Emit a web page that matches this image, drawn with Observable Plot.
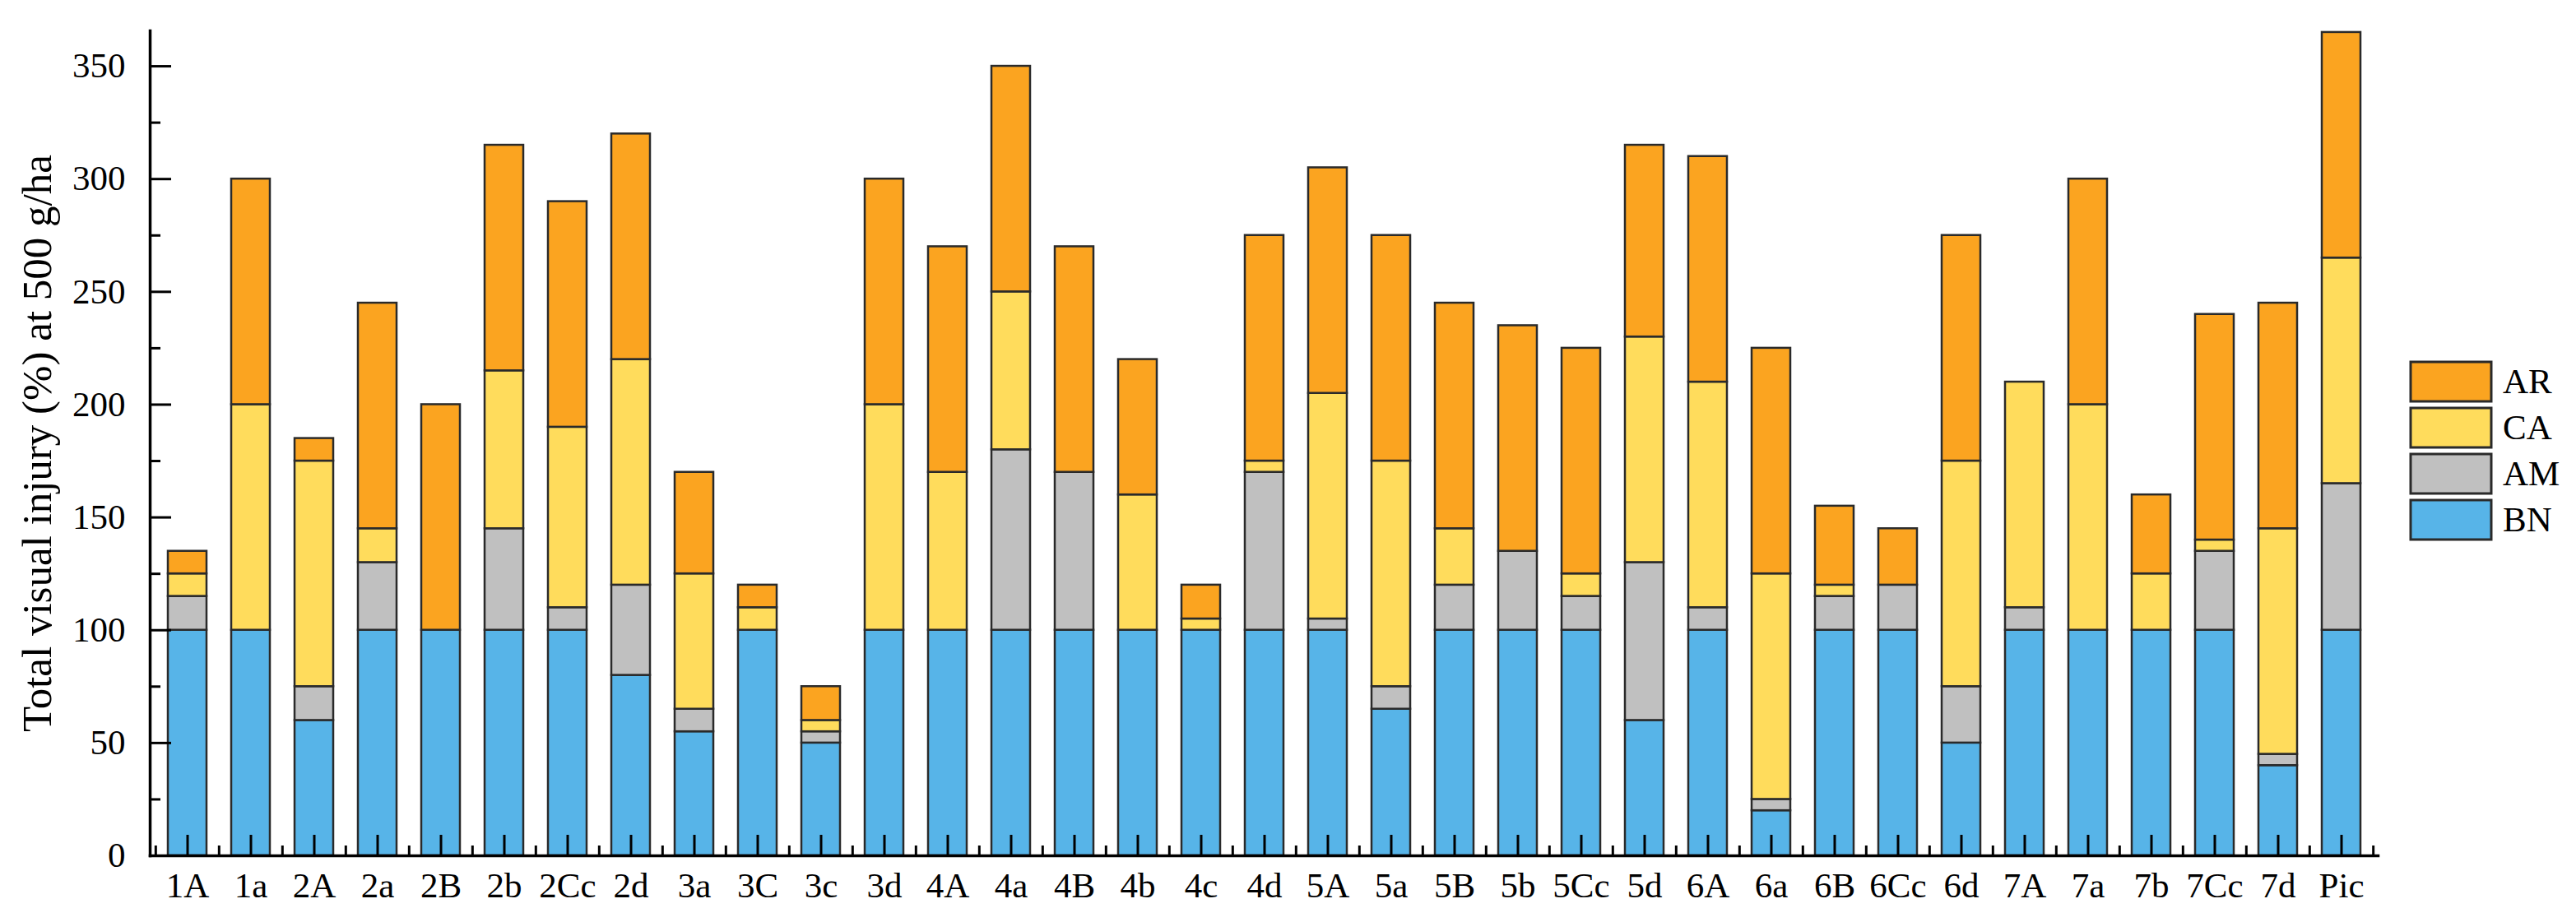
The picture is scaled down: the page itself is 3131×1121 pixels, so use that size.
<!DOCTYPE html>
<html>
<head>
<meta charset="utf-8">
<script src="https://cdn.jsdelivr.net/npm/d3@7"></script>
<script src="https://cdn.jsdelivr.net/npm/@observablehq/plot@0.6"></script>
<style>
  html, body { margin: 0; padding: 0; background: #fff; }
  #wrap { position: relative; width: 3131px; height: 1121px; overflow: hidden; background: #fff; }
  #legend { position: absolute; left: 2930px; top: 440px; }
  #legend .leg-swatches { width: 200px; margin: 0 !important; }
  #legend .leg-swatch { display: flex !important; align-items: center; margin: 0 0 8px 0 !important; padding: 0 !important; height: 48px; }
  #legend .leg-swatch svg { margin-right: 14px !important; overflow: visible; }
  #legend .leg-swatch svg rect { stroke: #2a2a2a; stroke-width: 3px; }
  #legend .leg-swatch-label, #legend .leg-swatch { line-height: 48px; overflow: visible !important; }
</style>
</head>
<body>
<div id="wrap"></div>
<script>
// ---- data ----
const categories = ["1A","1a","2A","2a","2B","2b","2Cc","2d","3a","3C","3c","3d","4A","4a","4B","4b","4c","4d","5A","5a","5B","5b","5Cc","5d","6A","6a","6B","6Cc","6d","7A","7a","7b","7Cc","7d","Pic"];
const BN = [100,100,60,100,100,100,100,80,55,100,50,100,100,100,100,100,100,100,100,65,100,100,100,60,100,20,100,100,50,100,100,100,100,40,100];
const AM = [15,0,15,30,0,45,10,40,10,0,5,0,0,80,70,0,0,70,5,10,20,35,15,70,10,5,15,20,25,10,0,0,35,5,65];
const CA = [10,100,100,15,0,70,80,100,60,10,5,100,70,70,0,60,5,5,100,100,25,0,10,100,100,100,5,0,100,100,100,25,5,100,100];
const AR = [10,100,10,100,100,100,100,100,45,10,15,100,100,100,100,60,15,100,100,100,100,100,100,85,100,100,35,25,100,0,100,35,100,100,100];
const stackOrder = ["BN","AM","CA","AR"];
const legendOrder = ["AR","CA","AM","BN"];
const seriesColors = ["#FBA420","#FFDC5C","#C0C0C0","#57B4E8"]; // AR, CA, AM, BN
const yMajorTicks = [0,50,100,150,200,250,300,350];
const yMinorTicks = [25,75,125,175,225,275,325];
const yTitle = "Total visual injury (%) at 500 g/ha";

// ---- layout ----
const W = 3131, H = 1121, ML = 182, MR = 241, MT = 37, MB = 81;
const frameW = W - ML - MR, frameH = H - MT - MB;
const step = frameW / categories.length;
const font = "'Liberation Serif','Times New Roman',Times,serif";

const seriesValues = {BN, AM, CA, AR};
const rows = [];
categories.forEach((c, i) => {
  stackOrder.forEach(s => {
    const v = seriesValues[s][i];
    if (v > 0) rows.push({cat: c, series: s, value: v});
  });
});

const plot = Plot.plot({
  width: W, height: H,
  marginLeft: ML, marginRight: MR, marginTop: MT, marginBottom: MB,
  style: {fontFamily: font, fontSize: "43px", color: "#000", background: "#fff"},
  x: {domain: categories, paddingInner: 0.39, paddingOuter: 0.195, label: null},
  y: {domain: [0, 365.7], label: null},
  color: {domain: legendOrder, range: seriesColors},
  marks: [
    Plot.barY(rows, Plot.stackY({x: "cat", y: "value", fill: "series", order: stackOrder, stroke: "#2a2a2a", strokeWidth: 2.5})),
    Plot.axisY({ticks: yMajorTicks, tickSize: 0, tickPadding: 30, fontSize: 43, label: yTitle, labelAnchor: "center", labelOffset: 157, labelArrow: false}),
    Plot.axisX({tickSize: 0, tickPadding: 20, fontSize: 43, label: null}),
    Plot.tickX(categories, {x: d => d, insetTop: frameH - 25, stroke: "#000", strokeWidth: 3}),
    Plot.tickX(categories, {x: d => d, dx: -step / 2, insetTop: frameH - 12, stroke: "#000", strokeWidth: 3}),
    Plot.tickX(categories.slice(-1), {x: d => d, dx: step / 2, insetTop: frameH - 12, stroke: "#000", strokeWidth: 3}),
    Plot.tickY(yMajorTicks, {y: d => d, insetRight: frameW - 26, stroke: "#000", strokeWidth: 3}),
    Plot.tickY(yMinorTicks, {y: d => d, insetRight: frameW - 13, stroke: "#000", strokeWidth: 3}),
    Plot.frame({anchor: "left", stroke: "#000", strokeWidth: 3.5}),
    Plot.frame({anchor: "bottom", stroke: "#000", strokeWidth: 3.5})
  ]
});

const lbl = plot.querySelector('[aria-label="y-axis label"]');
if (lbl) lbl.setAttribute("font-size", "51");

const wrap = document.getElementById("wrap");
wrap.appendChild(plot);

const leg = plot.legend("color", {
  columns: 1,
  swatchWidth: 98,
  swatchHeight: 48,
  className: "leg",
  style: {fontFamily: font, fontSize: "43px", color: "#000"}
});
const legDiv = document.createElement("div");
legDiv.id = "legend";
legDiv.appendChild(leg);
wrap.appendChild(legDiv);
</script>
</body>
</html>
